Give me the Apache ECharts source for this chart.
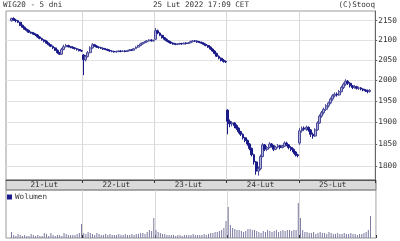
<!DOCTYPE html>
<html><head><meta charset="utf-8">
<script src="https://cdn.jsdelivr.net/npm/echarts@6/dist/echarts.min.js"></script>
<style>html,body{margin:0;padding:0;background:#fff}#c{width:400px;height:241px}</style>
</head><body><div id="c"></div>
<script>
// ---- data ----
const days = ['21-Lut', '22-Lut', '23-Lut', '24-Lut', '25-Lut'];
const times = ['09:00','09:15','09:30','09:45','10:00','10:15','10:30','10:45','11:00','11:15','11:30','11:45',
  '12:00','12:15','12:30','12:45','13:00','13:15','13:30','13:45','14:00','14:15','14:30','14:45',
  '15:00','15:15','15:30','15:45','16:00','16:15','16:30','16:45','17:00'];
const yTicks = [1800, 1850, 1900, 1950, 2000, 2050, 2100, 2150];
// [open, close, low, high]
const ohlc21 = [[2150,2156,2148,2158],[2156,2152,2150,2159],[2152,2150,2146,2155],[2150,2146,2144,2152],[2146,2138,2136,2147],
  [2138,2133,2131,2140],[2133,2128,2126,2135],[2128,2125,2122,2130],[2125,2120,2118,2127],[2120,2118,2116,2122],
  [2118,2115,2113,2120],[2115,2113,2110,2117],[2113,2108,2106,2115],[2108,2104,2102,2110],[2104,2100,2098,2106],
  [2100,2097,2094,2102],[2097,2092,2090,2099],[2092,2088,2086,2094],[2088,2084,2082,2090],[2084,2080,2077,2086],
  [2080,2074,2072,2082],[2074,2068,2065,2076],[2068,2064,2062,2070],[2064,2076,2062,2080],[2076,2083,2074,2088],
  [2083,2086,2081,2090],[2086,2083,2081,2088],[2083,2082,2079,2085],[2082,2080,2078,2084],[2080,2078,2076,2082],
  [2078,2076,2073,2080],[2076,2073,2071,2078],[2073,2072,2070,2075]];
const ohlc22 = [[2062,2050,2012,2064],[2050,2058,2046,2062],[2058,2068,2056,2072],[2068,2080,2066,2084],[2080,2088,2078,2092],
  [2088,2085,2083,2090],[2085,2082,2080,2087],[2082,2081,2078,2084],[2081,2079,2077,2083],[2079,2077,2075,2081],
  [2077,2076,2074,2079],[2076,2074,2072,2078],[2074,2072,2070,2076],[2072,2071,2069,2074],[2071,2070,2068,2073],
  [2070,2071,2068,2073],[2071,2072,2069,2074],[2072,2071,2069,2074],[2071,2072,2070,2074],[2072,2071,2069,2074],
  [2071,2073,2070,2075],[2073,2075,2072,2077],[2075,2074,2072,2077],[2074,2078,2073,2080],[2078,2082,2077,2084],
  [2082,2086,2080,2088],[2086,2090,2084,2093],[2090,2093,2088,2095],[2093,2095,2091,2097],[2095,2098,2093,2100],
  [2098,2100,2096,2102],[2100,2098,2096,2102],[2098,2099,2096,2101]];
const ohlc23 = [[2102,2124,2100,2131],[2124,2118,2115,2127],[2118,2112,2110,2120],[2112,2106,2104,2114],[2106,2102,2099,2108],
  [2102,2098,2096,2104],[2098,2095,2093,2100],[2095,2092,2090,2097],[2092,2090,2088,2094],[2090,2089,2087,2092],
  [2089,2090,2087,2092],[2090,2091,2088,2093],[2091,2090,2088,2093],[2090,2092,2089,2094],[2092,2091,2089,2094],
  [2091,2093,2090,2095],[2093,2096,2092,2098],[2096,2098,2094,2100],[2098,2097,2095,2100],[2097,2095,2093,2099],
  [2095,2094,2092,2097],[2094,2092,2090,2096],[2092,2089,2087,2094],[2089,2086,2084,2091],[2086,2082,2080,2088],
  [2082,2077,2075,2084],[2077,2072,2070,2079],[2072,2066,2064,2074],[2066,2059,2057,2068],[2059,2054,2051,2061],
  [2054,2049,2046,2056],[2049,2046,2043,2052],[2046,2045,2042,2048]];
const ohlc24 = [[1928,1902,1872,1930],[1902,1896,1888,1906],[1896,1898,1890,1902],[1898,1892,1886,1900],[1892,1886,1882,1895],
  [1886,1878,1874,1888],[1878,1872,1868,1880],[1872,1864,1860,1874],[1864,1858,1854,1866],[1858,1850,1846,1860],
  [1850,1840,1836,1852],[1840,1826,1822,1842],[1826,1810,1804,1828],[1810,1790,1782,1812],[1790,1795,1780,1800],
  [1795,1822,1792,1826],[1822,1848,1820,1852],[1848,1838,1834,1850],[1838,1842,1834,1846],[1842,1850,1840,1854],
  [1850,1846,1842,1852],[1846,1838,1834,1848],[1838,1843,1836,1846],[1843,1846,1840,1850],[1846,1842,1838,1848],
  [1842,1845,1840,1848],[1845,1852,1843,1856],[1852,1848,1845,1855],[1848,1842,1838,1850],[1842,1838,1834,1845],
  [1838,1832,1828,1840],[1832,1826,1822,1834],[1826,1824,1820,1828]];
const ohlc25 = [[1852,1880,1848,1886],[1880,1886,1876,1890],[1886,1884,1880,1890],[1884,1888,1880,1892],[1888,1882,1878,1890],
  [1882,1872,1866,1884],[1872,1868,1862,1876],[1868,1882,1866,1886],[1882,1898,1880,1902],[1898,1914,1896,1918],
  [1914,1922,1910,1926],[1922,1930,1918,1934],[1930,1938,1926,1942],[1938,1945,1934,1948],[1945,1954,1942,1958],
  [1954,1962,1950,1966],[1962,1966,1958,1970],[1966,1964,1960,1970],[1964,1972,1962,1976],[1972,1982,1970,1986],
  [1982,1990,1978,1994],[1990,1997,1986,2002],[1997,1992,1988,2000],[1992,1986,1982,1995],[1986,1982,1978,1988],
  [1982,1984,1979,1988],[1984,1980,1977,1986],[1980,1981,1976,1984],[1981,1978,1975,1983],[1978,1976,1973,1980],
  [1976,1974,1971,1978],[1974,1972,1968,1977],[1972,1975,1970,1978]];
const vol21 = [6,3,2,4,3,2,3,2,2,4,3,2,3,2,2,5,4,2,5,3,2,3,3,2,5,4,3,3,3,3,4,5,14];
const vol22 = [5,4,6,5,4,3,5,4,3,3,4,3,4,3,3,3,4,3,3,4,3,3,4,3,4,4,5,5,4,6,8,7,20];
const vol23 = [8,6,5,4,4,3,3,3,3,2,3,3,2,3,3,3,3,4,3,3,3,3,4,3,4,5,5,6,6,7,8,10,17];
const vol24 = [31,13,10,9,8,8,7,6,7,9,9,8,8,7,6,5,7,6,8,7,6,7,8,6,7,8,7,8,8,7,8,8,35];
const vol25 = [20,8,6,6,5,5,6,4,5,6,5,5,4,6,5,4,4,5,4,4,5,4,4,5,4,4,3,4,4,5,6,8,22];

// ---- build ----
const PAD_L = 2, PAD_R = 2, N = 33;
const allOhlc = [ohlc21, ohlc22, ohlc23, ohlc24, ohlc25];
const allVol = [vol21, vol22, vol23, vol24, vol25];
const cats = [], candles = [], vols = [];
for (let i = 0; i < PAD_L; i++) { cats.push('p' + i); candles.push('-'); vols.push('-'); }
days.forEach((d, k) => {
  times.forEach((t, j) => { cats.push(d + ' ' + t); candles.push(allOhlc[k][j]); vols.push(allVol[k][j]); });
});
for (let i = 0; i < PAD_R; i++) { cats.push('q' + i); candles.push('-'); vols.push('-'); }
const TOTAL = N * days.length;
const isSep = (idx) => idx > PAD_L && idx < PAD_L + TOTAL && (idx - PAD_L) % N === 0;
const isLbl = (idx) => idx >= PAD_L && idx < PAD_L + TOTAL && (idx - PAD_L) % N === 15;

const FONT = 'DejaVu Sans Mono';
const YMIN = 1770.5, YMAX = 2175.7;
const titleStyle = { fontFamily: FONT, fontSize: 7.6, fontWeight: 'normal', color: '#333' };

const chart = echarts.init(document.getElementById('c'), null, { renderer: 'canvas' });
chart.setOption({
  animation: false,
  backgroundColor: '#ffffff',
  title: [
    { text: 'WIG20 - 5 dni', left: 3, top: 1, padding: 0, textStyle: titleStyle },
    { text: '25 Lut 2022 17:09 CET', left: 153, top: 1, padding: 0, textStyle: titleStyle },
    { text: '(C)Stooq', right: 25, top: 1, padding: 0, textStyle: titleStyle }
  ],
  legend: {
    data: [{ name: 'Wolumen', itemStyle: { color: '#1c1c90' } }],
    left: 7, top: 193, itemWidth: 5, itemHeight: 5, itemGap: 3, icon: 'rect', selectedMode: false, padding: 0,
    textStyle: { fontFamily: FONT, fontSize: 7.6, color: '#333', padding: [0, 0, 0, -2] }
  },
  grid: [
    { left: 6, right: 24, top: 11, height: 169, show: true, borderColor: '#999', borderWidth: 1 },
    { left: 6, right: 24, top: 180, height: 10, show: true, backgroundColor: '#dadada', borderColor: '#777', borderWidth: 1 },
    { left: 6, right: 24, top: 190, height: 48, show: true, borderColor: '#999', borderWidth: 1 }
  ],
  xAxis: [
    { type: 'category', gridIndex: 0, data: cats, boundaryGap: true,
      axisLine: { show: true, lineStyle: { color: '#555' } },
      axisTick: { show: true, interval: (i) => isSep(i), length: 3, inside: false, lineStyle: { color: '#333' } },
      splitLine: { show: true, interval: (i) => isSep(i), lineStyle: { color: '#d8d8d8' } },
      axisLabel: { show: true, interval: (i) => isLbl(i), formatter: (v) => v.split(' ')[0], margin: 1,
        fontFamily: FONT, fontSize: 7.6, color: '#333' } },
    { type: 'category', gridIndex: 1, data: cats, show: false },
    { type: 'category', gridIndex: 2, data: cats, boundaryGap: true,
      axisLine: { show: false }, axisLabel: { show: false },
      axisTick: { show: true, interval: (i) => isSep(i), length: 3, inside: true, lineStyle: { color: '#333' } },
      splitLine: { show: true, interval: (i) => isSep(i), lineStyle: { color: '#d8d8d8' } } }
  ],
  yAxis: [
    { type: 'log', logBase: 10, gridIndex: 0, position: 'right', min: YMIN, max: YMAX,
      axisLine: { show: true, lineStyle: { color: '#666' } },
      axisTick: { show: true, customValues: yTicks, length: 2, lineStyle: { color: '#666' } },
      axisLabel: { show: true, customValues: yTicks, margin: 3, fontFamily: FONT, fontSize: 7.8, color: '#333',
        formatter: (v) => String(Math.round(v)) },
      splitLine: { show: true, lineStyle: { color: '#e2e2e2' } } },
    { type: 'value', gridIndex: 1, show: false },
    { type: 'value', gridIndex: 2, min: 0, max: 48, show: false }
  ],
  series: [
    { type: 'candlestick', name: 'WIG20', xAxisIndex: 0, yAxisIndex: 0, data: candles, barWidth: 2.4,
      itemStyle: { color: '#b0b0d4', color0: '#1a1a8a', borderColor: '#4a4a9c', borderColor0: '#1a1a8a', borderWidth: 1 } },
    { type: 'bar', name: 'Wolumen', xAxisIndex: 2, yAxisIndex: 2, data: vols, barWidth: 1,
      itemStyle: { color: '#7a7aa0' } }
  ]
});
</script></body></html>
